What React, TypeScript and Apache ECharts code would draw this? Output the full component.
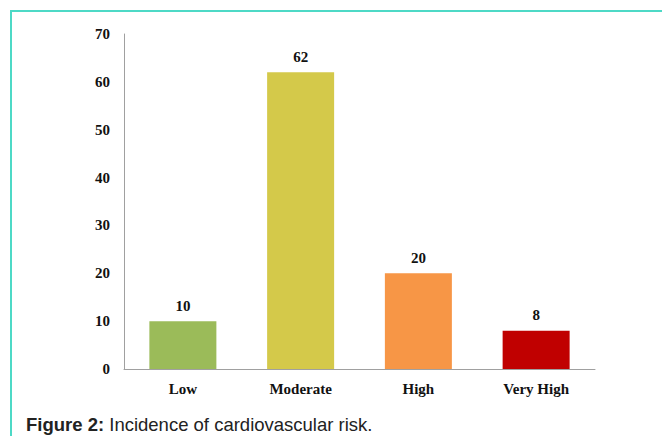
import React, { useEffect, useRef } from "react";
import * as echarts from "echarts";

const categories = ["Low", "Moderate", "High", "Very High"];
const values = [10, 62, 20, 8];
const barColors = ["#9BBB59", "#D4C94A", "#F79646", "#C00000"];
const yTicks = [0, 10, 20, 30, 40, 50, 60, 70];
const caption = { bold: "Figure 2:", rest: " Incidence of cardiovascular risk." };

export default function App() {
  const ref = useRef<HTMLDivElement>(null);
  useEffect(() => {
    if (!ref.current) return;
    const chart = echarts.init(ref.current, null, { renderer: "svg" });
    const font = {
      color: "#111",
      fontFamily: "Liberation Serif",
      fontWeight: "bold",
      fontSize: 15,
    };
    chart.setOption({
      animation: false,
      backgroundColor: "#ffffff",
      grid: { left: 124, right: 67, top: 34, bottom: 67, containLabel: false },
      xAxis: {
        type: "category",
        data: categories,
        axisLine: { show: true, lineStyle: { color: "#A0A0A0", width: 1 } },
        axisTick: { show: false },
        axisLabel: { margin: 12, ...font },
      },
      yAxis: {
        type: "value",
        min: yTicks[0],
        max: yTicks[yTicks.length - 1],
        interval: 10,
        splitLine: { show: false },
        axisLine: { show: true, lineStyle: { color: "#A0A0A0", width: 1 } },
        axisTick: { show: false },
        axisLabel: { margin: 14, ...font },
      },
      series: [
        {
          type: "bar",
          barWidth: 67,
          data: values.map((v, i) => ({ value: v, itemStyle: { color: barColors[i] } })),
          label: { show: true, position: "top", distance: 8, ...font },
        },
      ],
      graphic: [
        {
          type: "line",
          shape: { x1: 11, y1: 11, x2: 662, y2: 11 },
          style: { stroke: "#4DD9C6", lineWidth: 2 },
        },
        {
          type: "line",
          shape: { x1: 11, y1: 10, x2: 11, y2: 436 },
          style: { stroke: "#4DD9C6", lineWidth: 2 },
        },
        {
          type: "text",
          left: 26,
          top: 415,
          style: {
            rich: {
              b: { fontFamily: "Liberation Sans", fontWeight: "bold", fontSize: 18.5, fill: "#222" },
              n: { fontFamily: "Liberation Sans", fontSize: 18.5, fill: "#222" },
            },
            text: `{b|${caption.bold}}{n|${caption.rest}}`,
          },
        },
      ],
    });
    return () => chart.dispose();
  }, []);
  return (
    <div
      ref={ref}
      style={{ position: "fixed", left: 0, top: 0, width: 662, height: 436 }}
    />
  );
}
